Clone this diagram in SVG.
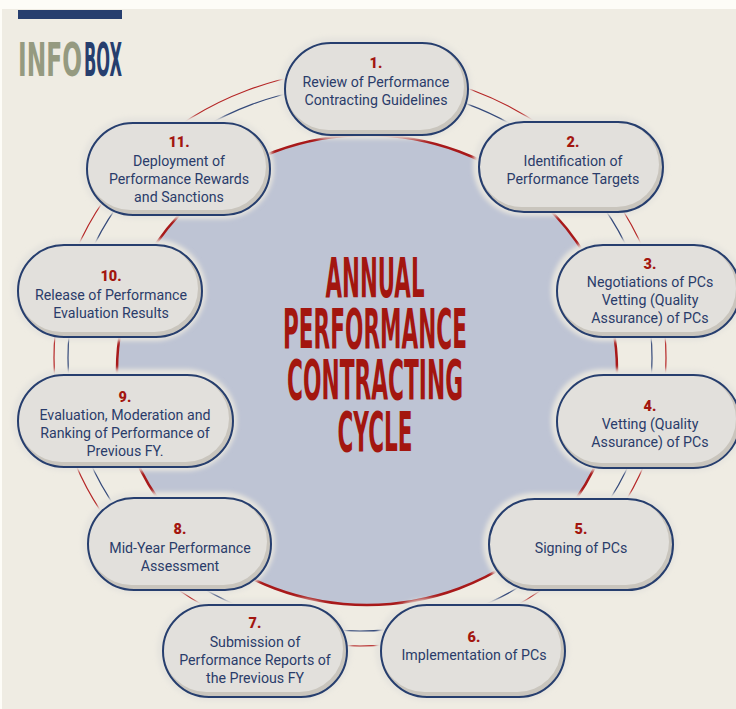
<svg xmlns="http://www.w3.org/2000/svg" width="736" height="709" viewBox="0 0 736 709">
<defs>
<filter id="soft" x="-10%" y="-20%" width="120%" height="140%"><feGaussianBlur stdDeviation="2"/></filter>
<style>
.halo{fill:#e6e4de;filter:url(#soft)}
.shade{fill:#c9c5bd}
.face{fill:#e2e0dc}
.edge{fill:none;stroke:#263e6e;stroke-width:2}
.num{font-family:Roboto,"Liberation Sans",sans-serif;font-weight:900;font-size:14.5px;fill:#a3160f;text-anchor:middle}
.lbl{font-family:Roboto,"Liberation Sans",sans-serif;font-size:14.2px;fill:#2a3c6a;text-anchor:middle}
.title{font-family:"Liberation Sans Narrow","DejaVu Sans Condensed","Liberation Sans",sans-serif;font-weight:bold;font-size:56px;fill:#a3160f;text-anchor:middle}
.ring{fill:none;stroke-width:1.2}
</style>
</defs>
<rect x="0" y="0" width="736" height="709" fill="#fdfcf7"/>
<rect x="2" y="9" width="734" height="700" fill="#efece3"/>
<g id="header">
<rect x="18" y="10" width="104" height="9" fill="#263e6e"/>
<text x="18" y="76" font-family="Liberation Sans Narrow,DejaVu Sans Condensed,Liberation Sans,sans-serif" font-weight="bold" font-size="46" fill="#959a80" textLength="64" lengthAdjust="spacingAndGlyphs">INFO</text>
<text x="84" y="76" font-family="Liberation Sans Narrow,DejaVu Sans Condensed,Liberation Sans,sans-serif" font-weight="bold" font-size="46" fill="#263e6e" textLength="38" lengthAdjust="spacingAndGlyphs">BOX</text>
</g>
<g id="connectors">
<ellipse class="ring" cx="360" cy="358" rx="306" ry="288" stroke="#b52626"/>
<ellipse class="ring" cx="360" cy="358" rx="292" ry="273" stroke="#34497a"/>
</g>
<g id="center">
<ellipse cx="367" cy="370" rx="250" ry="235" fill="#bec4d4" stroke="#a8191a" stroke-width="2.5"/>
<text class="title" x="375" y="297" textLength="99" lengthAdjust="spacingAndGlyphs">ANNUAL</text>
<text class="title" x="375" y="348" textLength="184" lengthAdjust="spacingAndGlyphs">PERFORMANCE</text>
<text class="title" x="375" y="399" textLength="176" lengthAdjust="spacingAndGlyphs">CONTRACTING</text>
<text class="title" x="375" y="451" textLength="75" lengthAdjust="spacingAndGlyphs">CYCLE</text>
</g>
<g id="node1">
<rect class="halo" x="279" y="37" width="193" height="102" rx="51"/>
<rect class="shade" x="285" y="43" width="183" height="92" rx="46"/>
<rect class="face" x="285" y="43" width="179" height="87" rx="43.5"/>
<rect class="edge" x="285" y="43" width="183" height="92" rx="46"/>
<text class="num" x="376" y="68">1.</text>
<text class="lbl"><tspan x="376" y="87">Review of Performance</tspan><tspan x="376" y="105">Contracting Guidelines</tspan></text>
</g>
<g id="node2">
<rect class="halo" x="473" y="116" width="194" height="100" rx="50"/>
<rect class="shade" x="479" y="122" width="184" height="90" rx="45"/>
<rect class="face" x="479" y="122" width="180" height="85" rx="42.5"/>
<rect class="edge" x="479" y="122" width="184" height="90" rx="45"/>
<text class="num" x="573" y="147">2.</text>
<text class="lbl"><tspan x="573" y="166">Identification of</tspan><tspan x="573" y="184">Performance Targets</tspan></text>
</g>
<g id="node3">
<rect class="halo" x="551" y="239" width="193" height="102" rx="51"/>
<rect class="shade" x="557" y="245" width="183" height="92" rx="46"/>
<rect class="face" x="557" y="245" width="179" height="87" rx="43.5"/>
<rect class="edge" x="557" y="245" width="183" height="92" rx="46"/>
<text class="num" x="650" y="269">3.</text>
<text class="lbl"><tspan x="650" y="287">Negotiations of PCs</tspan><tspan x="650" y="305">Vetting (Quality</tspan><tspan x="650" y="323">Assurance) of PCs</tspan></text>
</g>
<g id="node4">
<rect class="halo" x="551" y="369" width="193" height="103" rx="51.5"/>
<rect class="shade" x="557" y="375" width="183" height="93" rx="46.5"/>
<rect class="face" x="557" y="375" width="179" height="88" rx="44"/>
<rect class="edge" x="557" y="375" width="183" height="93" rx="46.5"/>
<text class="num" x="650" y="411">4.</text>
<text class="lbl"><tspan x="650" y="429">Vetting (Quality</tspan><tspan x="650" y="447">Assurance) of PCs</tspan></text>
</g>
<g id="node5">
<rect class="halo" x="483" y="493" width="194" height="101" rx="50.5"/>
<rect class="shade" x="489" y="499" width="184" height="91" rx="45.5"/>
<rect class="face" x="489" y="499" width="180" height="86" rx="43"/>
<rect class="edge" x="489" y="499" width="184" height="91" rx="45.5"/>
<text class="num" x="581" y="534">5.</text>
<text class="lbl" x="581" y="553">Signing of PCs</text>
</g>
<g id="node6">
<rect class="halo" x="375" y="599" width="194" height="102" rx="51"/>
<rect class="shade" x="381" y="605" width="184" height="92" rx="46"/>
<rect class="face" x="381" y="605" width="180" height="87" rx="43.5"/>
<rect class="edge" x="381" y="605" width="184" height="92" rx="46"/>
<text class="num" x="474" y="642">6.</text>
<text class="lbl" x="474" y="660">Implementation of PCs</text>
</g>
<g id="node7">
<rect class="halo" x="157" y="599" width="194" height="102" rx="51"/>
<rect class="shade" x="163" y="605" width="184" height="92" rx="46"/>
<rect class="face" x="163" y="605" width="180" height="87" rx="43.5"/>
<rect class="edge" x="163" y="605" width="184" height="92" rx="46"/>
<text class="num" x="255" y="628">7.</text>
<text class="lbl"><tspan x="255" y="647">Submission of</tspan><tspan x="255" y="665">Performance Reports of</tspan><tspan x="255" y="683">the Previous FY</tspan></text>
</g>
<g id="node8">
<rect class="halo" x="82" y="492" width="193" height="102" rx="51"/>
<rect class="shade" x="88" y="498" width="183" height="92" rx="46"/>
<rect class="face" x="88" y="498" width="179" height="87" rx="43.5"/>
<rect class="edge" x="88" y="498" width="183" height="92" rx="46"/>
<text class="num" x="180" y="534">8.</text>
<text class="lbl"><tspan x="180" y="553">Mid-Year Performance</tspan><tspan x="180" y="571">Assessment</tspan></text>
</g>
<g id="node9">
<rect class="halo" x="12" y="369" width="225" height="102" rx="51"/>
<rect class="shade" x="18" y="375" width="215" height="92" rx="46"/>
<rect class="face" x="18" y="375" width="211" height="87" rx="43.5"/>
<rect class="edge" x="18" y="375" width="215" height="92" rx="46"/>
<text class="num" x="125" y="402">9.</text>
<text class="lbl"><tspan x="125" y="420">Evaluation, Moderation and</tspan><tspan x="125" y="438">Ranking of Performance of</tspan><tspan x="125" y="456">Previous FY.</tspan></text>
</g>
<g id="node10">
<rect class="halo" x="12" y="239" width="194" height="102" rx="51"/>
<rect class="shade" x="18" y="245" width="184" height="92" rx="46"/>
<rect class="face" x="18" y="245" width="180" height="87" rx="43.5"/>
<rect class="edge" x="18" y="245" width="184" height="92" rx="46"/>
<text class="num" x="111" y="281">10.</text>
<text class="lbl"><tspan x="111" y="300">Release of Performance</tspan><tspan x="111" y="318">Evaluation Results</tspan></text>
</g>
<g id="node11">
<rect class="halo" x="81" y="117" width="193" height="102" rx="51"/>
<rect class="shade" x="87" y="123" width="183" height="92" rx="46"/>
<rect class="face" x="87" y="123" width="179" height="87" rx="43.5"/>
<rect class="edge" x="87" y="123" width="183" height="92" rx="46"/>
<text class="num" x="179" y="147">11.</text>
<text class="lbl"><tspan x="179" y="166">Deployment of</tspan><tspan x="179" y="184">Performance Rewards</tspan><tspan x="179" y="202">and Sanctions</tspan></text>
</g>
</svg>
